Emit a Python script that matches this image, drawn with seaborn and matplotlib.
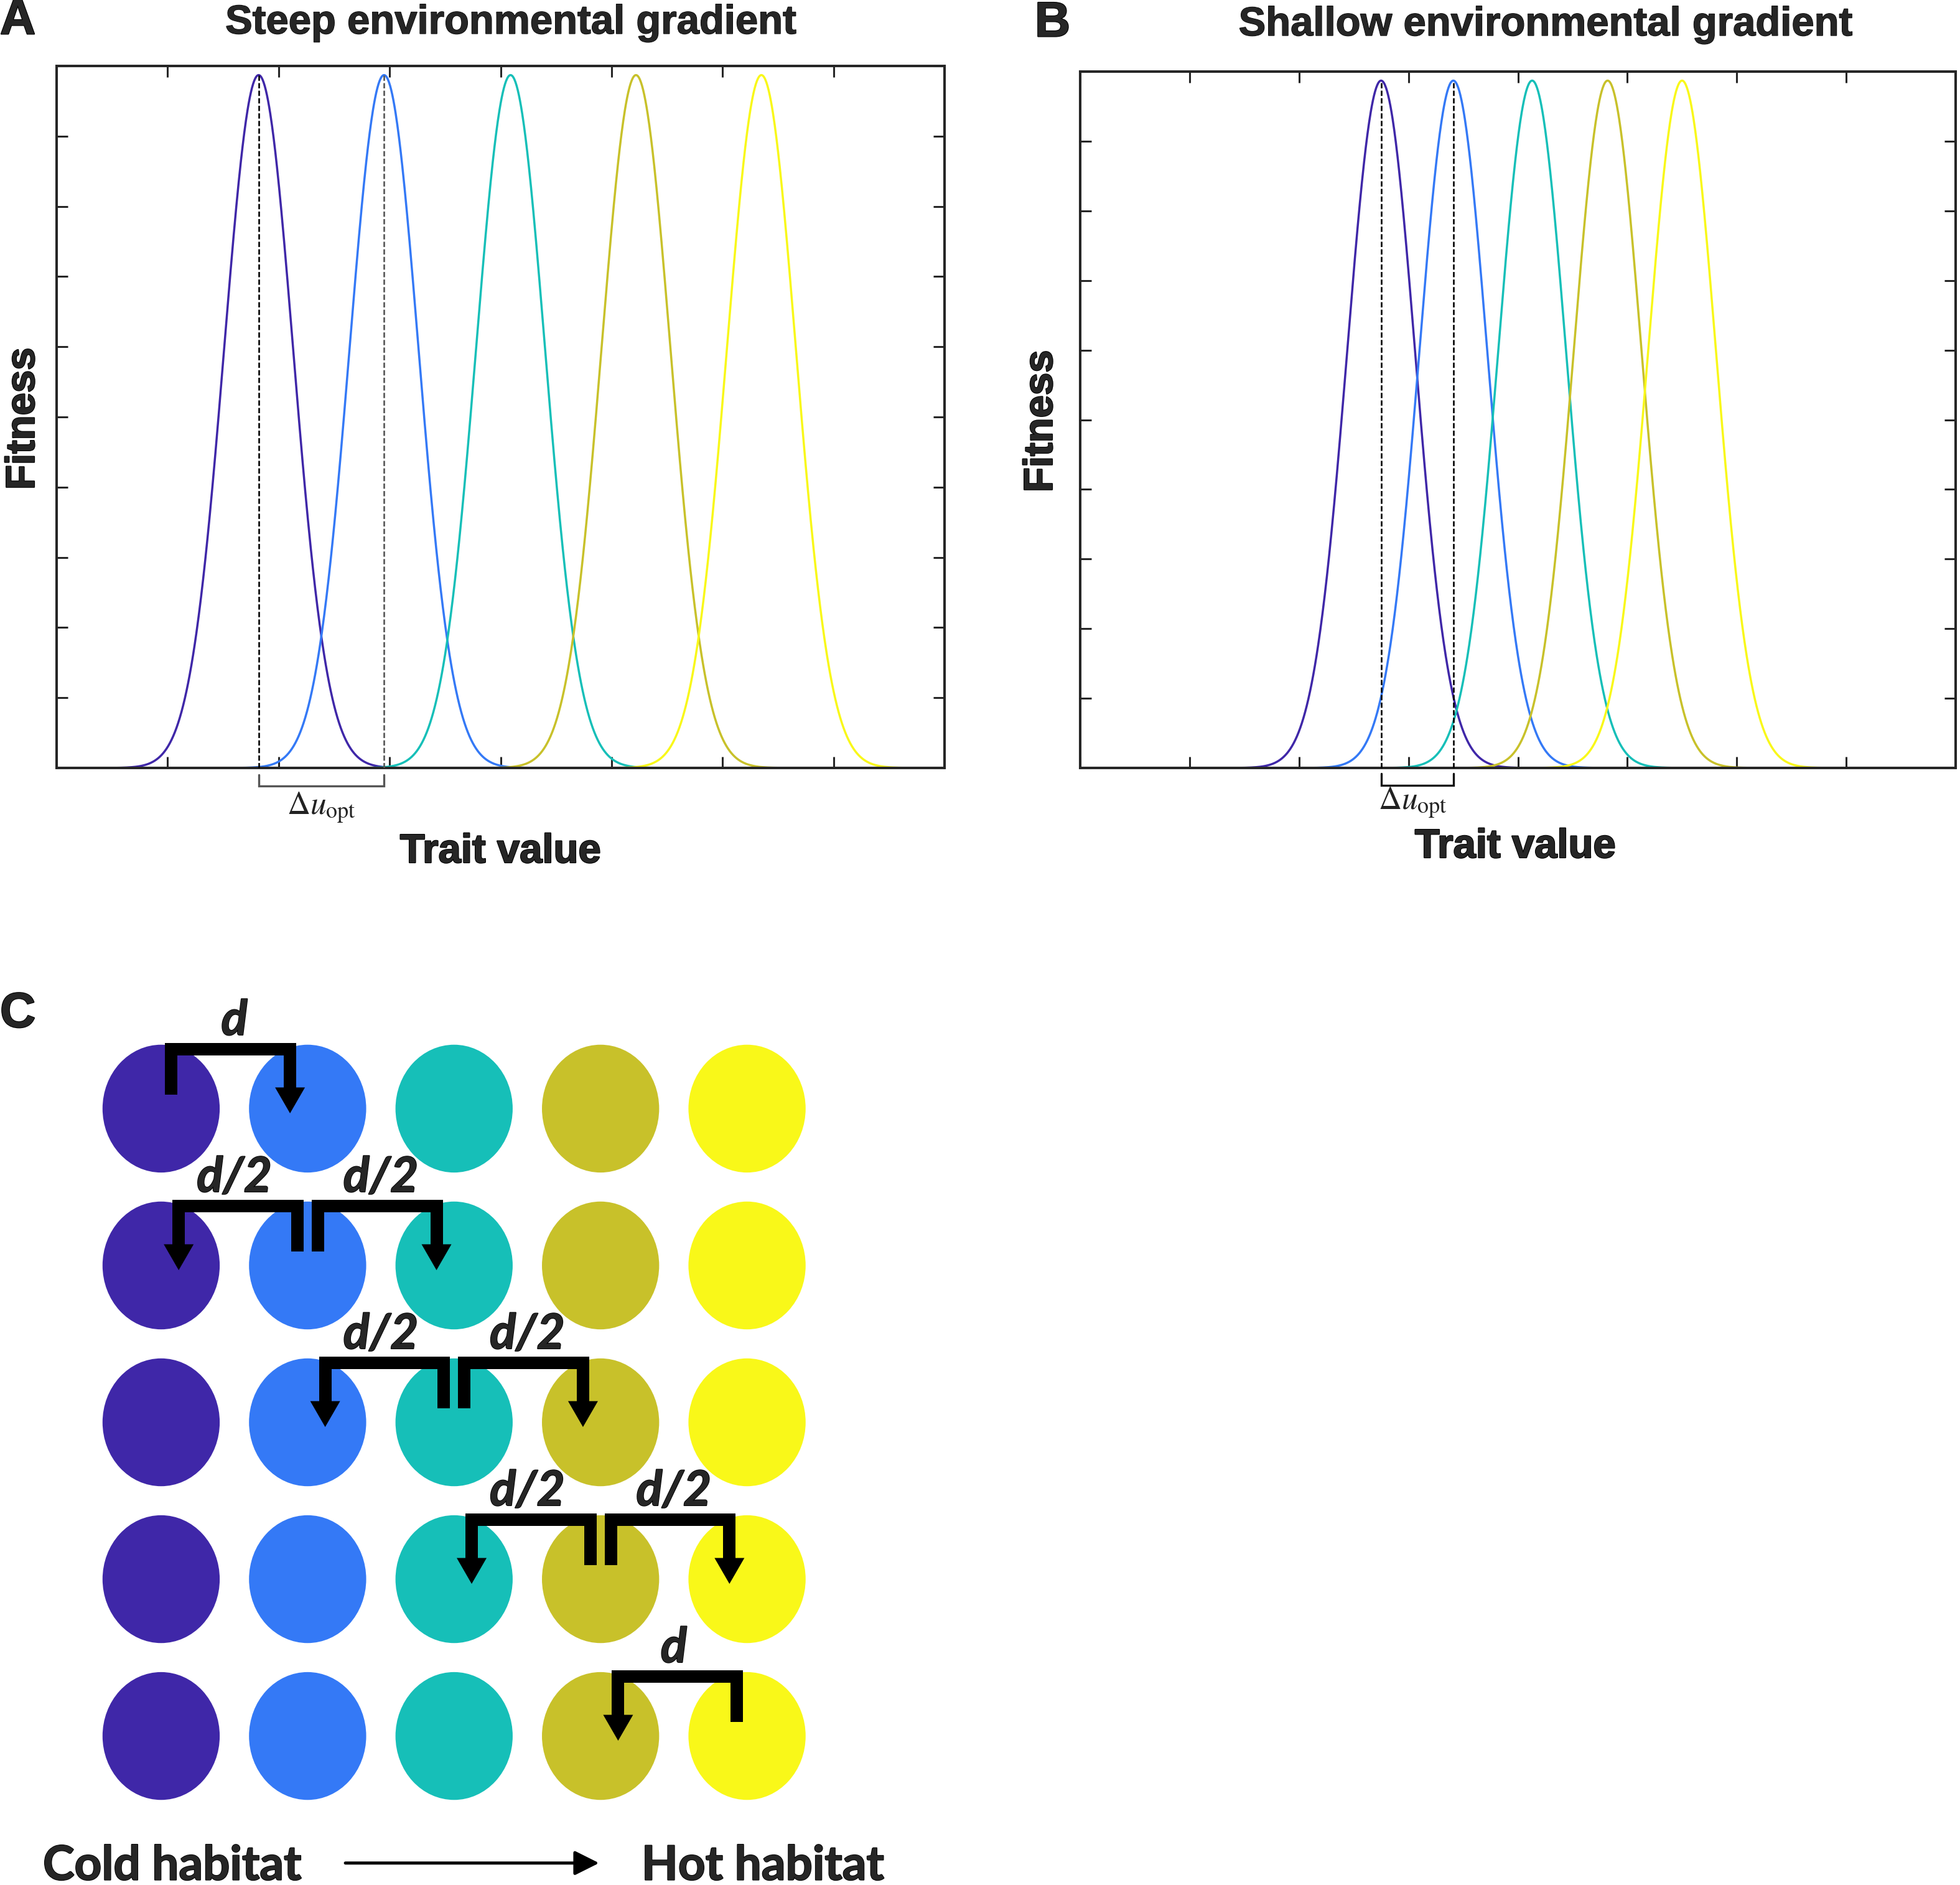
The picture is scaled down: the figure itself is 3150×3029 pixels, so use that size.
import numpy as np
import pandas as pd
import seaborn as sns
import matplotlib.pyplot as plt
import matplotlib.patheffects as pe
from matplotlib.patches import Ellipse

# figure size in pixels (dpi 100)
W, H = 3150, 3029

# five habitats, cold -> hot
habitats = ["1", "2", "3", "4", "5"]
colors = ["#3F27A8", "#3479F6", "#16BFB8", "#C8C12A", "#F9F819"]

# trait optima (x axis runs 0..8)
optima_steep = [1.82, 2.95, 4.09, 5.22, 6.35]
optima_shallow = [2.75, 3.41, 4.13, 4.82, 5.50]
peak_fitness = 0.987
fitness_sd = 0.31

x_ticks = [0, 1, 2, 3, 4, 5, 6, 7, 8]
y_ticks = [0, 0.1, 0.2, 0.3, 0.4, 0.5, 0.6, 0.7, 0.8, 0.9, 1.0]

# panel C: dispersal per row (from habitat, to habitat, label)
moves = [
    [(0, 1, "d")],
    [(1, 0, "d/2"), (1, 2, "d/2")],
    [(2, 1, "d/2"), (2, 3, "d/2")],
    [(3, 2, "d/2"), (3, 4, "d/2")],
    [(4, 3, "d")],
]


def px_rect(x0, y0, x1, y1):
    return [x0 / W, 1 - y1 / H, (x1 - x0) / W, (y1 - y0) / H]


def fitness_table(optima):
    trait = np.linspace(0, 8, 1601)
    rows = []
    for hab, opt in zip(habitats, optima):
        fit = peak_fitness * np.exp(-(trait - opt) ** 2 / (2 * fitness_sd ** 2))
        rows.append(pd.DataFrame({"trait": trait, "fitness": fit, "habitat": hab}))
    return pd.concat(rows, ignore_index=True)


sns.set_theme(style="white")
plt.rcParams["font.family"] = ["Liberation Sans", "DejaVu Sans"]
plt.rcParams["mathtext.fontset"] = "stix"

fig = plt.figure(figsize=(W / 100, H / 100), dpi=100)
heavy = [pe.withStroke(linewidth=1.6, foreground="black")]
medium = [pe.withStroke(linewidth=1.0, foreground="black")]


def fitness_panel(rect, optima, title, title_xy, brk, brk_color, dash2_color,
                  du_xy, letter, letter_xy, fit_xy, trait_xy):
    ax = fig.add_axes(px_rect(*rect))
    df = fitness_table(optima)
    sns.lineplot(data=df, x="trait", y="fitness", hue="habitat", palette=colors,
                 legend=False, ax=ax, linewidth=2.5, errorbar=None)
    ax.set_xlim(0, 8)
    ax.set_ylim(0, 1)
    ax.set_xticks(x_ticks)
    ax.set_yticks(y_ticks)
    ax.tick_params(direction="in", length=13, width=2.2, color="#262626",
                   top=True, right=True, bottom=True, left=True,
                   labelbottom=False, labelleft=False)
    for s in ax.spines.values():
        s.set_linewidth(2.9)
        s.set_color("#262626")
    ax.set_xlabel("")
    ax.set_ylabel("")

    # dashed lines at the first two optima
    ax.plot([optima[0], optima[0]], [0, peak_fitness], color="black",
            lw=1.9, ls=(0, (3.2, 1.4)), zorder=3)
    ax.plot([optima[1], optima[1]], [0, peak_fitness], color=dash2_color,
            lw=1.9, ls=(0, (3.2, 1.4)), zorder=3)

    # bracket for delta u_opt
    ax.plot([optima[0], optima[0], optima[1], optima[1]],
            [brk[0], brk[1], brk[1], brk[0]], color=brk_color, lw=2.4,
            clip_on=False, solid_joinstyle="miter")
    fig.text(du_xy[0] / W, 1 - du_xy[1] / H, r"$\Delta u_{\rm opt}$",
             fontsize=37, ha="center", va="center", color="#222222")

    fig.text(title_xy[0] / W, 1 - title_xy[1] / H, title, fontsize=47,
             fontweight="bold", ha="center", va="center", path_effects=medium)
    fig.text(letter_xy[0] / W, 1 - letter_xy[1] / H, letter, fontsize=57,
             fontweight="bold", ha="left", va="center", path_effects=heavy)
    fig.text(fit_xy[0] / W, 1 - fit_xy[1] / H, "Fitness", fontsize=47,
             fontweight="bold", rotation=90, ha="center", va="center",
             path_effects=heavy)
    fig.text(trait_xy[0] / W, 1 - trait_xy[1] / H, "Trait value", fontsize=47,
             fontweight="bold", ha="center", va="baseline", path_effects=heavy)
    return ax


fitness_panel((91, 106, 1518, 1234), optima_steep, "Steep environmental gradient",
              (820, 37), (-0.010, -0.026), "#555555", "#555555",
              (516, 1298), "A", (0, 34), (38, 673), (804, 1386))
fitness_panel((1736, 115, 3143, 1234), optima_shallow, "Shallow environmental gradient",
              (2483, 40), (-0.008, -0.025), "#111111", "black",
              (2270, 1290), "B", (1663, 38), (1674, 677), (2435, 1378))

# ---- panel C ----
axc = fig.add_axes(px_rect(0, 1542, 1436, 3029))
axc.set_xlim(-1.1, 5.0)
axc.set_ylim(4.95, -0.95)
axc.axis("off")

for r in range(len(moves)):
    for h in range(len(habitats)):
        axc.add_patch(Ellipse((h, r), 0.80, 0.815, facecolor=colors[h], lw=0))

bar_y, stem_bot, tip, head_len, head_half = -0.38, -0.09, 0.03, 0.165, 0.102
for r, row in enumerate(moves):
    for src, dst, lab in row:
        step = np.sign(dst - src)
        sx = src + 0.07 * step
        tx = dst - 0.12 * step
        axc.plot([sx, sx, tx, tx],
                 [r + stem_bot, r + bar_y, r + bar_y, r + tip - head_len + 0.01],
                 color="black", lw=14.4, solid_joinstyle="miter",
                 solid_capstyle="butt", zorder=4)
        axc.fill([tx - head_half, tx + head_half, tx],
                 [r + tip - head_len, r + tip - head_len, r + tip],
                 color="black", lw=0, zorder=4)
        axc.text((src + dst) / 2, r - 0.47, lab, fontsize=56, fontweight="bold",
                 fontstyle="italic", family=["Lato", "DejaVu Sans"],
                 ha="center", va="baseline", zorder=5,
                 path_effects=[pe.withStroke(linewidth=1.4, foreground="black")])

hab_fx = [pe.withStroke(linewidth=1.4, foreground="black")]
axc.text(-0.807, 4.917, "Cold habitat", fontsize=55, fontweight="bold",
         family=["Lato", "DejaVu Sans"], ha="left", va="baseline", clip_on=False,
         path_effects=hab_fx)
axc.text(4.934, 4.917, "Hot habitat", fontsize=55, fontweight="bold",
         family=["Lato", "DejaVu Sans"], ha="right", va="baseline", clip_on=False,
         path_effects=hab_fx)
axc.annotate("", xy=(2.99, 4.81), xytext=(1.258, 4.81),
             arrowprops=dict(arrowstyle="-|>,head_length=0.6,head_width=0.3",
                             mutation_scale=40, lw=3.6, color="black",
                             shrinkA=0, shrinkB=0))
fig.text(0 / W, 1 - 1630 / H, "C", fontsize=57, fontweight="bold",
         ha="left", va="center", path_effects=heavy)

fig.savefig("out.png", dpi=100, facecolor="white")
